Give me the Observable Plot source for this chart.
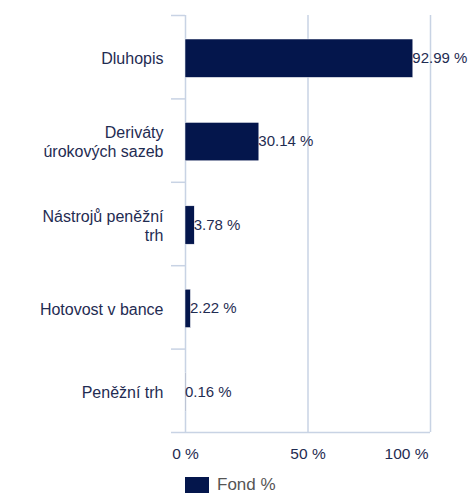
<!DOCTYPE html>
<html>
<head>
<meta charset="utf-8">
<script src="https://cdn.jsdelivr.net/npm/d3@7"></script>
<script src="https://cdn.jsdelivr.net/npm/@observablehq/plot@0.6"></script>
<style>
  body { margin: 0; background: #fff; font-family: "Liberation Sans", Arial, sans-serif; }
  #legend { display: flex; align-items: center; margin-left: 185px; margin-top: 5px; font-size: 17px; color: #555; }
  #legend .sw { width: 24px; height: 16px; background: #04164c; margin-right: 8px; }
</style>
</head>
<body>
<div id="chart"></div>
<div id="legend"><div class="sw"></div><span>Fond %</span></div>
<script>
const categories = ["Dluhopis", "Deriváty\núrokových sazeb", "Nástrojů peněžní\ntrh", "Hotovost v bance", "Peněžní trh"];
const values = [92.99, 30.14, 3.78, 2.22, 0.16];
const valueLabels = ["92.99 %", "30.14 %", "3.78 %", "2.22 %", "0.16 %"];
const xTicks = [0, 50, 100];
const xTickLabels = ["0 %", "50 %", "100 %"];

const data = categories.map((c, i) => ({cat: c, idx: i, value: values[i], label: valueLabels[i]}));
const ticks = xTicks.map((t, i) => ({t, label: xTickLabels[i], last: i === xTicks.length - 1}));
const bounds = d3.range(categories.length + 1);
const navy = "#04164c";
const textColor = "#1f2c52";
const gridColor = "#c8d3e4";

const chart = Plot.plot({
  width: 468,
  height: 470,
  marginLeft: 185,
  marginRight: 38,
  marginTop: 15,
  marginBottom: 38,
  style: {fontFamily: "Liberation Sans, Arial, sans-serif", fontSize: "15px", color: textColor, background: "#fff"},
  x: {domain: [0, 100], axis: null},
  y: {domain: [0, categories.length], reverse: true, axis: null},
  marks: [
    Plot.ruleX(xTicks, {stroke: gridColor, strokeWidth: 1.5}),
    Plot.ruleY([categories.length], {stroke: gridColor, strokeWidth: 1.5}),
    Plot.axisY({ticks: bounds, tickSize: 14, tickFormat: () => "", label: null, stroke: gridColor, strokeWidth: 1.5, strokeOpacity: 1, anchor: "left"}),
    Plot.rect(data, {x1: 0, x2: "value", y1: "idx", y2: d => d.idx + 1, insetTop: 24, insetBottom: 21, fill: navy, stroke: "#fff", strokeWidth: 0.5}),
    Plot.text(data, {x: "value", y: d => d.idx + 0.5, text: "label", textAnchor: "start", dx: -1, dy: 1, fill: textColor, fontSize: 15}),
    Plot.text(data, {y: d => d.idx + 0.5, text: "cat", frameAnchor: "left", lineAnchor: "middle", textAnchor: "end", dx: -22, dy: 1, lineHeight: 1.2, fill: textColor, fontSize: 16}),
    Plot.text(ticks.filter(d => !d.last), {x: "t", text: "label", frameAnchor: "bottom", lineAnchor: "middle", dy: 22, textAnchor: "middle", fill: textColor, fontSize: 15.5}),
    Plot.text(ticks.filter(d => d.last), {x: "t", text: "label", frameAnchor: "bottom", lineAnchor: "middle", dy: 22, dx: -2, textAnchor: "end", fill: textColor, fontSize: 15.5})
  ]
});
document.getElementById("chart").appendChild(chart);
</script>
</body>
</html>
